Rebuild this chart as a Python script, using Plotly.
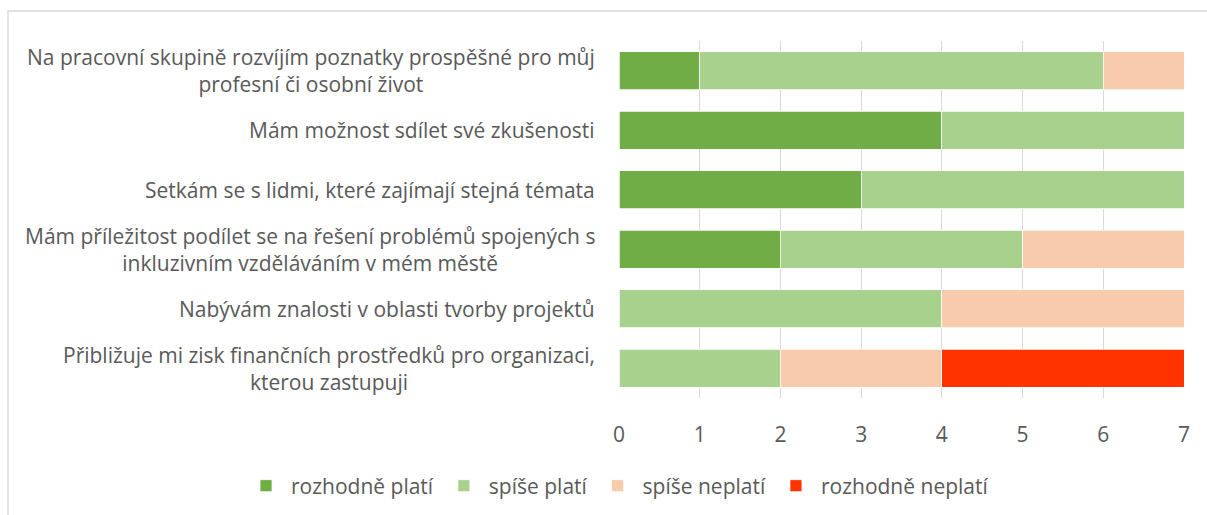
import plotly.graph_objects as go

categories = [
    "Na pracovní skupině rozvíjím poznatky prospěšné pro můj<br>profesní či osobní život",
    "Mám možnost sdílet své zkušenosti",
    "Setkám se s lidmi, které zajímají stejná témata",
    "Mám příležitost podílet se na řešení problémů spojených s<br>inkluzivním vzděláváním v mém městě",
    "Nabývám znalosti v oblasti tvorby projektů",
    "Přibližuje mi zisk finančních prostředků pro organizaci,<br>kterou zastupuji",
]
series_names = ["rozhodně platí", "spíše platí", "spíše neplatí", "rozhodně neplatí"]
rozhodne_plati = [1, 4, 3, 2, 0, 0]
spise_plati = [5, 3, 4, 3, 4, 2]
spise_neplati = [1, 0, 0, 2, 3, 2]
rozhodne_neplati = [0, 0, 0, 0, 0, 3]
colors = ["#70AD47", "#A9D18E", "#F8CBAD", "#FF3300"]
x_ticks = [0, 1, 2, 3, 4, 5, 6, 7]

W, H = 1207, 515
ML, MR, MT, MB = 619, 23, 41, 117
FONT = "Open Sans, DejaVu Sans, sans-serif"
TXT = "#595959"
FS = 21

fig = go.Figure()
for name, vals, col in zip(series_names,
                           [rozhodne_plati, spise_plati, spise_neplati, rozhodne_neplati],
                           colors):
    fig.add_trace(go.Bar(
        y=categories, x=vals, name=name, orientation="h",
        marker=dict(color=col, line=dict(color="white", width=0.75)),
        width=0.64,
    ))

# category labels as centered multi-line annotations
for c in categories:
    fig.add_annotation(
        x=0, xref="paper", y=c, yref="y", text=c, showarrow=False,
        xanchor="right", yanchor="middle", align="center", xshift=-22,
        font=dict(family=FONT, size=FS, color=TXT),
    )

pw = W - ML - MR
ph = H - MT - MB
# chart frame (outer border)
fig.add_shape(
    type="rect", xref="paper", yref="paper",
    x0=(8 - ML) / pw, x1=(W + 5 - ML) / pw,
    y0=(H - MB - (H + 5)) / ph, y1=(H - MB - 11) / ph,
    line=dict(color="#D9D9D9", width=1.3), fillcolor="rgba(0,0,0,0)", layer="below",
)

fig.update_layout(
    width=W, height=H,
    margin=dict(l=ML, r=MR, t=MT, b=MB, autoexpand=False),
    barmode="stack",
    plot_bgcolor="white", paper_bgcolor="white",
    font=dict(family=FONT, size=FS, color=TXT),
    xaxis=dict(
        range=[0, 7], tickvals=x_ticks, showgrid=True, gridcolor="#D9D9D9", gridwidth=1.3,
        zeroline=False, showline=False, ticks="", tickfont=dict(size=FS, color=TXT),
        ticklabelstandoff=22,
    ),
    yaxis=dict(
        autorange="reversed", showticklabels=False, showgrid=False, zeroline=False,
        showline=False, ticks="",
    ),
    legend=dict(
        orientation="h", x=(241 - ML) / pw, xref="paper", xanchor="left",
        y=(H - MB - 486) / ph, yref="paper", yanchor="middle",
        font=dict(size=FS, color=TXT), itemwidth=40, traceorder="normal",
        bgcolor="rgba(0,0,0,0)",
    ),
    showlegend=True,
)

fig.write_html(
    "out.html",
    config={"displayModeBar": False},
    post_script="document.body.style.margin='0';document.body.style.overflow='hidden';",
)
